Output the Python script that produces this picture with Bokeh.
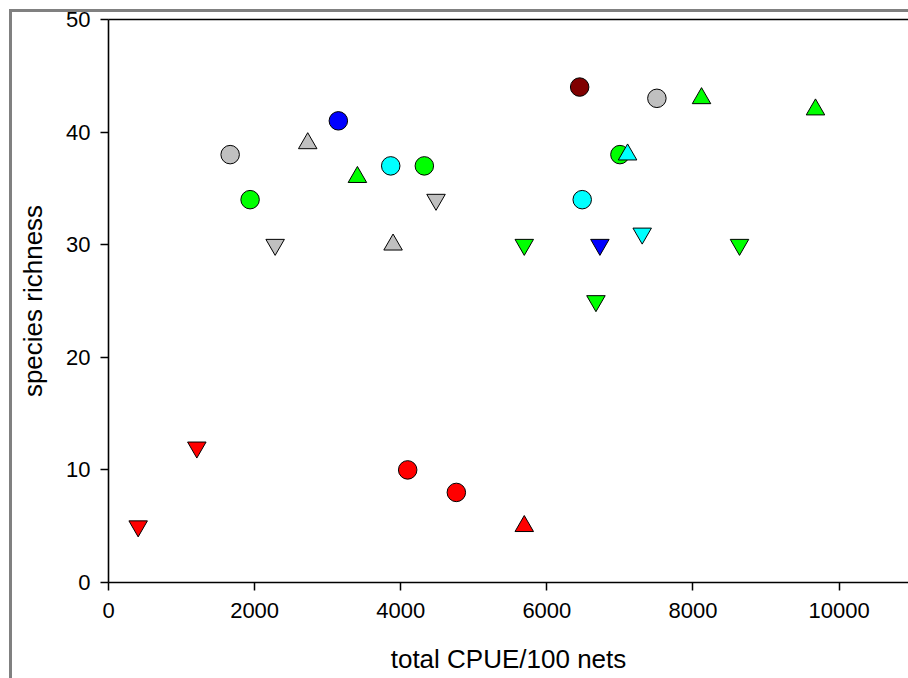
from bokeh.plotting import figure
from bokeh.models import ColumnDataSource, LinearAxis, FixedTicker, Range1d, InlineStyleSheet
from bokeh.embed import file_html
from bokeh.resources import INLINE

# Catch per unit effort against number of species, one point per sample
cpue = [1665, 1938, 3146, 3863, 4323, 6449, 7506, 7000, 6484, 4095, 4761,
        2727, 3407, 3895, 8117, 9677, 7105, 5691,
        2281, 4483, 7305, 5691, 6726, 8637, 6672, 406, 1209]
richness = [38, 34, 41, 37, 37, 44, 43, 38, 34, 10, 8,
            39, 36, 30, 43, 42, 38, 5,
            30, 34, 31, 30, 30, 30, 25, 5, 12]
fill = ["#c0c0c0", "#00ff00", "#0000ff", "#00ffff", "#00ff00", "#800000", "#c0c0c0", "#00ff00", "#00ffff", "#ff0000", "#ff0000",
        "#c0c0c0", "#00ff00", "#c0c0c0", "#00ff00", "#00ff00", "#00ffff", "#ff0000",
        "#c0c0c0", "#c0c0c0", "#00ffff", "#00ff00", "#0000ff", "#00ff00", "#00ff00", "#ff0000", "#ff0000"]
shape = ["circle"] * 11 + ["triangle"] * 7 + ["inverted_triangle"] * 9

x_ticks = [0, 2000, 4000, 6000, 8000, 10000]
y_ticks = [0, 10, 20, 30, 40, 50]

FONT = "Liberation Sans"

src = ColumnDataSource(dict(x=cpue, y=richness, fill=fill, shape=shape))

p = figure(width=908, height=678,
           x_range=Range1d(0, 10950), y_range=Range1d(0, 50),
           output_backend="svg", toolbar_location=None,
           min_border_left=108, min_border_top=19,
           min_border_right=0, min_border_bottom=96,
           x_axis_label="total CPUE/100 nets", y_axis_label="species richness")
p.grid.visible = False
p.outline_line_color = None
p.background_fill_color = "white"
p.border_fill_color = "white"

# grey page border along the left and top edges
p.stylesheets = [InlineStyleSheet(css="""
:host::before { content: ''; position: absolute; left: 9px; top: 9px;
                width: 3px; height: 669px; background: #808080; z-index: 5; }
:host::after  { content: ''; position: absolute; left: 9px; top: 9px;
                width: 899px; height: 3px; background: #808080; z-index: 5; }
""")]

p.scatter("x", "y", source=src, marker="shape", fill_color="fill",
          line_color="black", line_width=1, size=18.5)

for ax, ticks in ((p.xaxis[0], x_ticks), (p.yaxis[0], y_ticks)):
    ax.ticker = FixedTicker(ticks=ticks)
    ax.axis_line_width = 1.6
    ax.major_tick_line_width = 1.5
    ax.major_tick_out = 8
    ax.major_tick_in = 0
    ax.minor_tick_line_color = None
    ax.major_label_text_font = FONT
    ax.major_label_text_font_size = "22px"
    ax.major_label_text_color = "black"
    ax.axis_label_text_font = FONT
    ax.axis_label_text_font_size = "26px"
    ax.axis_label_text_font_style = "normal"
    ax.axis_label_text_color = "black"

p.xaxis[0].major_label_standoff = 12
p.xaxis[0].axis_label_standoff = 23
p.yaxis[0].major_label_standoff = 10
p.yaxis[0].axis_label_standoff = 15

# plain line along the top of the frame
top = LinearAxis(ticker=FixedTicker(ticks=[]), axis_line_width=1.6,
                 major_tick_out=0, major_tick_in=0, minor_tick_line_color=None,
                 major_label_standoff=0, major_label_text_font_size="0px")
p.add_layout(top, "above")

open("out.html", "w").write(file_html(p, INLINE))
